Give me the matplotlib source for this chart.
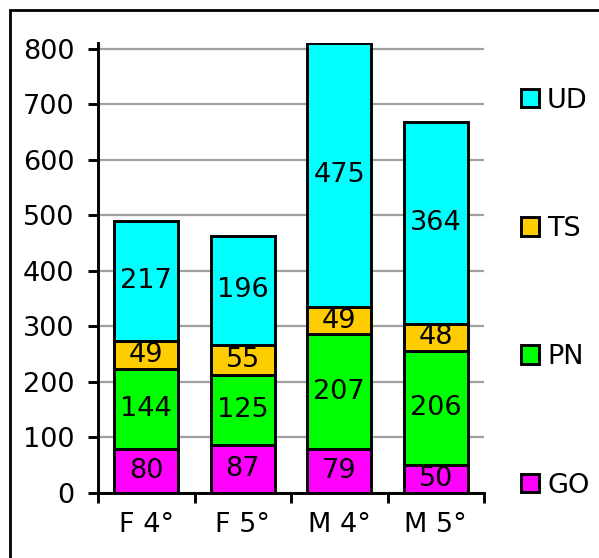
import matplotlib.pyplot as plt
import matplotlib.patches as mpatches
import numpy as np

categories = ['F 4°', 'F 5°', 'M 4°', 'M 5°']
series_names = ['GO', 'PN', 'TS', 'UD']
go = [80, 87, 79, 50]
pn = [144, 125, 207, 206]
ts = [49, 55, 49, 48]
ud = [217, 196, 475, 364]
colors = ['#ff00ff', '#00ff00', '#ffcc00', '#00ffff']

plt.rcParams['font.family'] = 'DejaVu Sans'
fs = 19.5
lw = 2.1
fig = plt.figure(figsize=(5.99, 5.58), dpi=100)
ax = fig.add_axes([98 / 599, 1 - 493 / 558, 386 / 599, 450 / 558])

x = np.arange(len(categories))
bottom = np.zeros(len(categories))
handles = []
for name, vals, col in zip(series_names, [go, pn, ts, ud], colors):
    bars = ax.bar(x, vals, width=0.66, bottom=bottom, color=col,
                  edgecolor='black', linewidth=lw, label=name, zorder=3)
    ax.bar_label(bars, labels=[str(v) for v in vals], label_type='center',
                 fontsize=fs, zorder=4)
    bottom += np.array(vals)
    handles.append(bars)

ax.set_xlim(-0.5, len(categories) - 0.5)
ax.set_ylim(0, 810)
ax.set_yticks(np.arange(0, 801, 100))
ax.set_xticks(x)
ax.set_xticklabels(categories)
ax.set_xticks(np.arange(-0.5, len(categories), 1), minor=True)
ax.tick_params(axis='x', which='major', length=0, pad=14, labelsize=fs)
ax.tick_params(axis='x', which='minor', length=7, width=lw, direction='out')
ax.tick_params(axis='y', length=7, width=lw, labelsize=fs, pad=10)
ax.grid(axis='y', color='#a0a0a0', linewidth=1.6, zorder=0)
for s in ['top', 'right']:
    ax.spines[s].set_visible(False)
for s in ['left', 'bottom']:
    ax.spines[s].set_linewidth(lw)

leg = fig.legend(handles[::-1], series_names[::-1], loc='upper left',
                 bbox_to_anchor=(507 / 599, 1 - 74 / 558), frameon=False,
                 fontsize=fs, handlelength=0.68, handleheight=0.68,
                 handletextpad=0.3, labelspacing=3.78, borderpad=0)

fig.patches.append(mpatches.Rectangle((10 / 599, -0.1), 1.2, 1 - 10 / 558 + 0.1,
                                      transform=fig.transFigure, fill=False,
                                      edgecolor='black', linewidth=2))

plt.savefig('out.png', dpi=100)
